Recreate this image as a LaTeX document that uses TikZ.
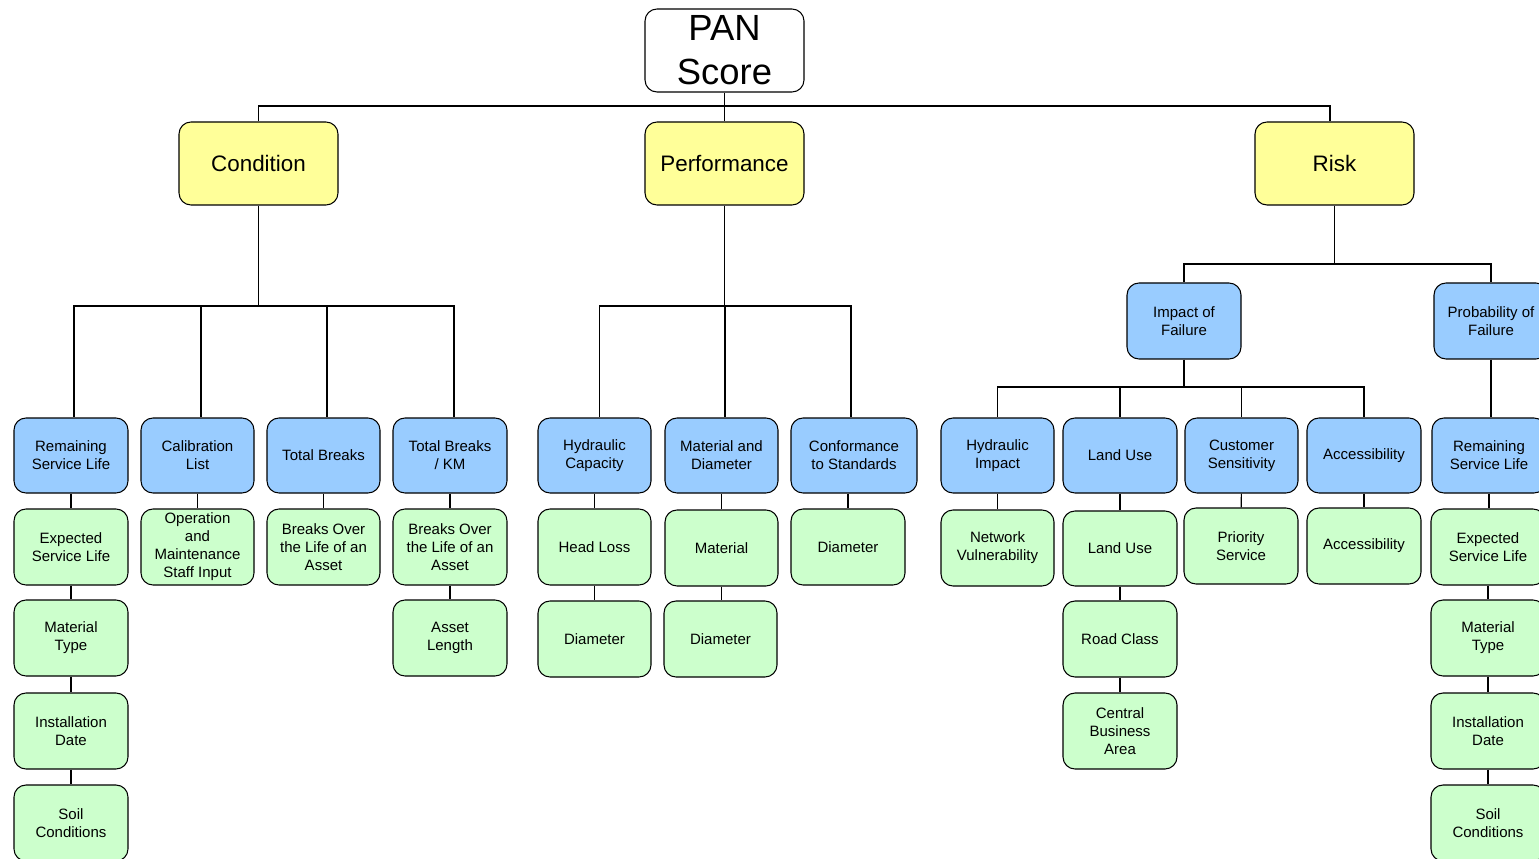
\documentclass[tikz,border=0pt]{standalone}
\usepackage{fontspec}
\setmainfont{Liberation Sans}
\definecolor{topfill}{HTML}{FFFF99}
\definecolor{midfill}{HTML}{99CCFF}
\definecolor{leaffill}{HTML}{CCFFCC}
\begin{document}
\begin{tikzpicture}[x=0.75pt,y=-0.75pt,
  every node/.style={inner sep=0pt},
  box/.style={draw=black, line width=0.8pt, rounded corners=9pt, align=center},
  sz/.style 2 args={minimum width=#1*0.75pt, minimum height=#2*0.75pt},
  rootbox/.style={box, fill=white, sz={159}{83}, font=\fontsize{27.3}{33}\selectfont},
  headbox/.style={box, fill=topfill, sz={159}{83}, font=\fontsize{16.8}{20}\selectfont},
  catbox/.style={box, fill=midfill, sz={114}{75}, font=\fontsize{11.25}{13.5}\selectfont},
  leafbox/.style={box, fill=leaffill, sz={114}{76}, font=\fontsize{11.25}{13.5}\selectfont},
  link/.style={draw=black, line width=0.8pt}]
\clip (0,0) rectangle (1539,859);
\fill[white] (0,0) rectangle (1539,859);

% top levels
\node[rootbox] (pan) at (724.5,50.5) {PAN\\Score};
\node[headbox] (cond) at (258.5,163.5) {Condition};
\node[headbox] (perf) at (724.5,163.5) {Performance};
\node[headbox] (risk) at (1334.5,163.5) {Risk};

\node[catbox, sz={114}{76}] (impact) at (1184,321) {Impact of\\Failure};
\node[catbox, sz={114}{76}] (prob) at (1491,321) {Probability of\\Failure};

% condition branch
\node[catbox, sz={114}{75}] (rsl) at (71,455.5) {Remaining\\Service Life};
\node[catbox, sz={113}{75}] (cal) at (197.5,455.5) {Calibration\\List};
\node[catbox, sz={113}{75}] (tb) at (323.5,455.5) {Total Breaks};
\node[catbox, sz={114}{75}] (tbkm) at (450,455.5) {Total Breaks\\/ KM};

\node[leafbox] (esl) at (71,547) {Expected\\Service Life};
\node[leafbox, sz={113}{76}] (om) at (197.5,547) {Operation\\and\\Maintenance\\Staff Input};
\node[leafbox, sz={113}{76}] (bol) at (323.5,547) {Breaks Over\\the Life of an\\Asset};
\node[leafbox] (bolkm) at (450,547) {Breaks Over\\the Life of an\\Asset};
\node[leafbox] (mt) at (71,638) {Material\\Type};
\node[leafbox] (al) at (450,638) {Asset\\Length};
\node[leafbox] (idate) at (71,731) {Installation\\Date};
\node[leafbox] (soil) at (71,823) {Soil\\Conditions};

% performance branch
\node[catbox, sz={113}{75}] (hc) at (594.5,455.5) {Hydraulic\\Capacity};
\node[catbox, sz={113}{75}] (md) at (721.5,455.5) {Material and\\Diameter};
\node[catbox, sz={126}{75}] (cs) at (854,455.5) {Conformance\\to Standards};

\node[leafbox, sz={113}{76}] (hl) at (594.5,547) {Head Loss};
\node[leafbox, sz={113}{76}] (mat) at (721.5,548) {Material};
\node[leafbox] (diaa) at (848,547) {Diameter};
\node[leafbox, sz={113}{76}] (diab) at (594.5,639) {Diameter};
\node[leafbox, sz={113}{76}] (diac) at (720.5,639) {Diameter};

% impact of failure branch
\node[catbox, sz={113}{75}] (hi) at (997.5,455.5) {Hydraulic\\Impact};
\node[catbox] (lu) at (1120,455.5) {Land Use};
\node[catbox, sz={113}{75}] (csens) at (1241.5,455.5) {Customer\\Sensitivity};
\node[catbox] (acc) at (1364,455.5) {Accessibility};

\node[leafbox, sz={113}{76}] (nv) at (997.5,548) {Network\\Vulnerability};
\node[leafbox, sz={114}{75}] (lub) at (1120,548.5) {Land Use};
\node[leafbox] (ps) at (1241,546) {Priority\\Service};
\node[leafbox] (accb) at (1364,546) {Accessibility};
\node[leafbox] (rc) at (1120,639) {Road Class};
\node[leafbox] (cba) at (1120,731) {Central\\Business\\Area};

% probability of failure branch
\node[catbox] (rslr) at (1489,455.5) {Remaining\\Service Life};
\node[leafbox] (eslr) at (1488,547) {Expected\\Service Life};
\node[leafbox] (mtr) at (1488,638) {Material\\Type};
\node[leafbox] (idr) at (1488,731) {Installation\\Date};
\node[leafbox] (soilr) at (1488,823) {Soil\\Conditions};

% bus junctions
\coordinate (topbus) at (724.5,106);
\coordinate (condbus) at (258.5,306);
\coordinate (perfbus) at (724.5,306);
\coordinate (riskbus) at (1334.5,264);
\coordinate (impbus) at (1184,387);

% connectors: root to heads
\draw[link] (pan) -- (perf);
\draw[link] (topbus) -| (cond.north);
\draw[link] (topbus) -| ([xshift=-3.4pt]risk.north);

% condition
\draw[link] (cond) -- (condbus);
\draw[link] (condbus) -| ([xshift=2.25pt]rsl.north);
\draw[link] (condbus) -| ([xshift=2.6pt]cal.north);
\draw[link] (condbus) -| ([xshift=2.6pt]tb.north);
\draw[link] (condbus) -| ([xshift=3pt]tbkm.north);
\draw[link] (rsl) -- (esl);
\draw[link] (esl) -- (mt);
\draw[link] (mt) -- (idate);
\draw[link] (idate) -- (soil);
\draw[link] (cal) -- (om);
\draw[link] (tb) -- (bol);
\draw[link] (tbkm) -- (bolkm);
\draw[link] (bolkm) -- (al);

% performance
\draw[link] (perf) -- (perfbus);
\draw[link] (perfbus) -| ([xshift=3.4pt]hc.north);
\draw[link] (perfbus) -| ([xshift=2.6pt]md.north);
\draw[link] (perfbus) -| ([xshift=-2.25pt]cs.north);
\draw[link] (hc) -- (hl);
\draw[link] (hl) -- (diab);
\draw[link] (md) -- (mat);
\draw[link] (mat) -- (diac.north -| mat.south);
\draw[link] ([xshift=-4.5pt]cs.south) -- (diaa);

% risk
\draw[link] (risk) -- (riskbus);
\draw[link] (riskbus) -| (impact.north);
\draw[link] (riskbus) -| (prob.north);
\draw[link] (impact) -- (impbus);
\draw[link] (impbus) -| (hi.north);
\draw[link] (impbus) -| (lu.north);
\draw[link] (impbus) -| (csens.north);
\draw[link] (impbus) -| (acc.north);
\draw[link] (hi) -- (nv);
\draw[link] (lu) -- (lub);
\draw[link] (lub) -- (rc);
\draw[link] (rc) -- (cba);
\draw[link] (csens) -- (ps);
\draw[link] (acc) -- (accb);
\draw[link] (prob.south) -- (prob.south |- rslr.north);
\draw[link] (rslr) -- (eslr.north -| rslr.south);
\draw[link] (eslr) -- (mtr);
\draw[link] (mtr) -- (idr);
\draw[link] (idr) -- (soilr);
\end{tikzpicture}
\end{document}
